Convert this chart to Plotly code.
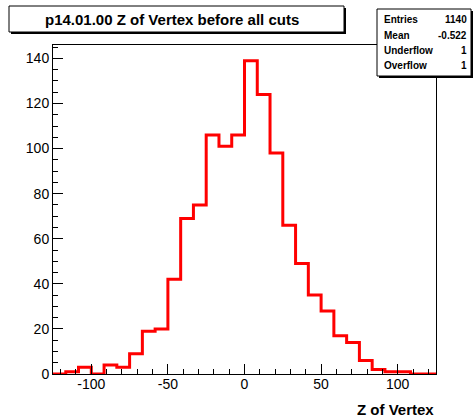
import numpy as np
import plotly.graph_objects as go

# histogram contents, 30 bins from -125 to 125
x_lo, x_hi, n_bins = -125, 125, 30
counts = [0, 1, 3, 0, 4, 3, 9, 19, 20, 42, 69, 75, 106, 101, 106,
          139, 124, 98, 66, 49, 35, 28, 17, 14, 6, 2, 1, 1, 0, 0]

x_tick_vals = [-100, -50, 0, 50, 100]
x_tick_labels = ["-100", "-50", "0", "50", "100"]
y_tick_vals = [0, 20, 40, 60, 80, 100, 120, 140]

title_text = "p14.01.00 Z of Vertex before all cuts"
x_title = "Z of Vertex"
stat_names = ["Entries", "Mean", "Underflow", "Overflow"]
stat_values = ["1140", "-0.522", "1", "1"]

W, H = 473, 419
L, R, T, B = 53, 37, 45, 45
FONT = "Liberation Sans, Arial, Helvetica"

edges = np.linspace(x_lo, x_hi, n_bins + 1)
y_max = max(counts) * 1.05


def px(x):
    # pixel column -> paper x
    return (x - L) / (W - L - R)


def py(y):
    # pixel row -> paper y
    return (H - B - y) / (H - T - B)


fig = go.Figure()
fig.add_trace(go.Scatter(
    x=edges, y=counts + [counts[-1]],
    mode="lines", line=dict(color="#ff0000", width=3, shape="hv"),
    cliponaxis=False, hoverinfo="skip", showlegend=False,
))

shapes = []
annotations = []


def box(x0, y0, x1, y1):
    # ROOT style pave with a shadow on the right and bottom
    shapes.append(dict(type="rect", xref="paper", yref="paper", layer="above",
                       x0=px(x0 + 2), x1=px(x1 + 2), y0=py(y0 + 2), y1=py(y1 + 2),
                       fillcolor="black", line=dict(width=0)))
    shapes.append(dict(type="rect", xref="paper", yref="paper", layer="above",
                       x0=px(x0), x1=px(x1), y0=py(y0), y1=py(y1),
                       fillcolor="white", line=dict(color="black", width=1)))


box(9, 6, 344, 32)
annotations.append(dict(text="<b>%s</b>" % title_text, xref="paper", yref="paper",
                        x=px(172), y=py(19), xanchor="center", yanchor="middle",
                        showarrow=False, font=dict(size=15, color="black", family=FONT)))

box(377, 9, 471, 76)
for i, (name, val) in enumerate(zip(stat_names, stat_values)):
    yy = py(20 + i * 15.2)
    annotations.append(dict(text="<b>%s</b>" % name, xref="paper", yref="paper",
                            x=px(382), y=yy, xanchor="left", yanchor="middle",
                            showarrow=False, font=dict(size=10, color="black", family=FONT)))
    annotations.append(dict(text="<b>%s</b>" % val, xref="paper", yref="paper",
                            x=px(469), y=yy, xanchor="right", yanchor="middle",
                            showarrow=False, font=dict(size=10, color="black", family=FONT)))

annotations.append(dict(text="<b>%s</b>" % x_title, xref="paper", yref="paper",
                        x=px(436), y=py(409), xanchor="right", yanchor="middle",
                        showarrow=False, font=dict(size=15, color="black", family=FONT)))

axis_common = dict(showgrid=False, zeroline=False, showline=True, mirror=True,
                   linecolor="black", linewidth=1, ticks="inside", tickcolor="black",
                   tickwidth=1, tickfont=dict(size=14, color="black", family=FONT))

fig.update_layout(
    width=W, height=H,
    margin=dict(l=L, r=R, t=T, b=B),
    paper_bgcolor="white", plot_bgcolor="white",
    font=dict(family=FONT, color="black"),
    xaxis=dict(range=[x_lo, x_hi], tickmode="array", tickvals=x_tick_vals,
               ticktext=x_tick_labels, ticklen=10, ticklabelstandoff=-3,
               minor=dict(dtick=10, tick0=0, ticklen=5, ticks="inside",
                          tickcolor="black"),
               **axis_common),
    yaxis=dict(range=[0, y_max], tickmode="array", tickvals=y_tick_vals, ticklen=10,
               minor=dict(dtick=5, tick0=0, ticklen=5, ticks="inside",
                          tickcolor="black"),
               **axis_common),
    shapes=shapes,
    annotations=annotations,
)

# the page's default body margin would shift the figure by 8px
fig.write_html("out.html", config={"displayModeBar": False},
               post_script="document.body.style.margin='0';document.body.style.overflow='hidden';")
